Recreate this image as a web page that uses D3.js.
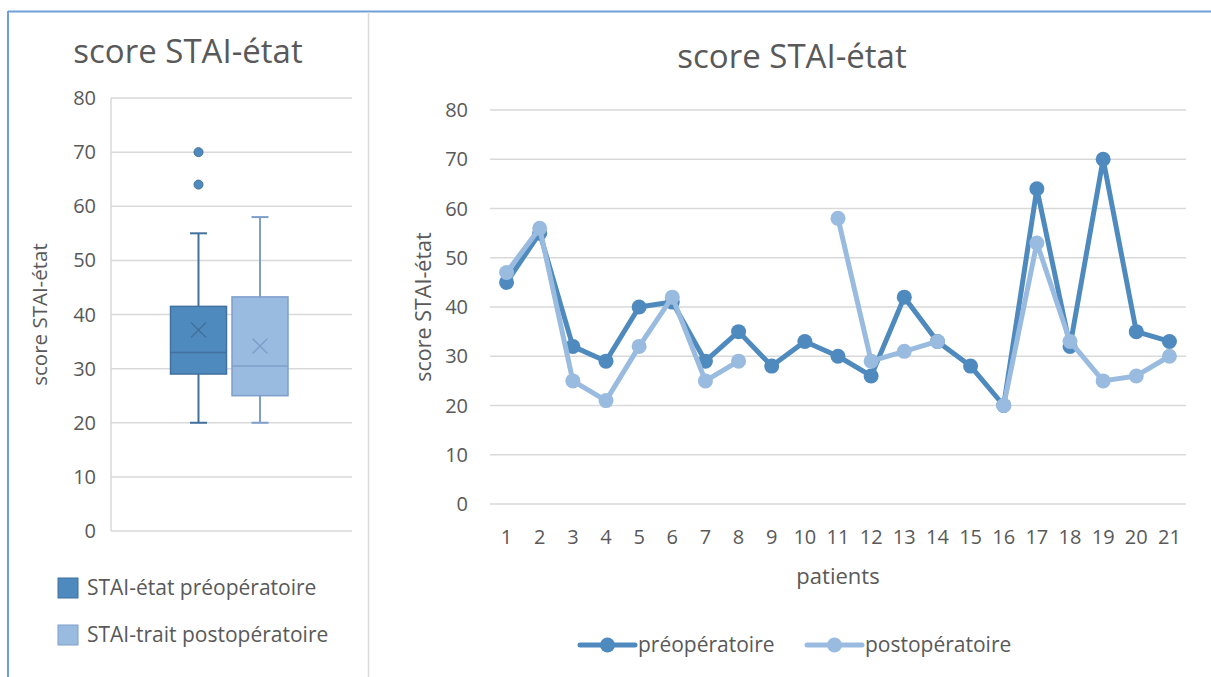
<!DOCTYPE html>
<html>
<head>
<meta charset="utf-8">
<script src="https://cdn.jsdelivr.net/npm/d3@7"></script>
<style>
  body { margin: 0; background: #fff; }
  text { font-family: "Open Sans", sans-serif; fill: #595959; }
</style>
</head>
<body>
<div class="chart"></div>
<script>
// data
var patients = d3.range(1, 22);
var preop  = [45, 55, 32, 29, 40, 41, 29, 35, 28, 33, 30, 26, 42, 33, 28, 20, 64, 32, 70, 35, 33];
var postop = [47, 56, 25, 21, 32, 42, 25, 29, null, null, 58, 29, 31, 33, null, 20, 53, 33, 25, 26, 30];
var yTicks = [0, 10, 20, 30, 40, 50, 60, 70, 80];
var boxNames = ["STAI-état préopératoire", "STAI-trait postopératoire"];
var lineNames = ["préopératoire", "postopératoire"];

var dark = "#4f8abf", light = "#9abbe0";
var darkEdge = "#41719c", lightEdge = "#7f9fca";
var grid = "#d9d9d9";

var W = 1211, H = 677;
var svg = d3.select(".chart").append("svg")
    .attr("width", W)
    .attr("height", H);

// frame
svg.append("line").attr("x1", 8).attr("x2", W).attr("y1", 11.5).attr("y2", 11.5)
    .attr("stroke", "#6fa0d8").attr("stroke-width", 2);
svg.append("line").attr("x1", 8).attr("x2", 8).attr("y1", 11).attr("y2", H)
    .attr("stroke", "#6fa0d8").attr("stroke-width", 2);
svg.append("line").attr("x1", 368.5).attr("x2", 368.5).attr("y1", 12).attr("y2", H)
    .attr("stroke", grid).attr("stroke-width", 1.5);

// Excel-style exclusive quartiles
function quartExc(sorted, p) {
    var n = sorted.length;
    var pos = (n + 1) * p;
    var lo = Math.floor(pos);
    if (lo < 1) return sorted[0];
    if (lo >= n) return sorted[n - 1];
    return sorted[lo - 1] + (pos - lo) * (sorted[lo] - sorted[lo - 1]);
}

function boxStats(vals) {
    var s = vals.filter(function(d){ return d != null; }).sort(d3.ascending);
    var q1 = quartExc(s, 0.25), med = quartExc(s, 0.5), q3 = quartExc(s, 0.75);
    var iqr = q3 - q1;
    var lowF = q1 - 1.5 * iqr, hiF = q3 + 1.5 * iqr;
    var inside = s.filter(function(d){ return d >= lowF && d <= hiF; });
    return {
        q1: q1, med: med, q3: q3, mean: d3.mean(s),
        lo: d3.min(inside), hi: d3.max(inside),
        out: s.filter(function(d){ return d < lowF || d > hiF; })
    };
}

/* ---------- left: box plot ---------- */
var left = svg.append("g");

left.append("text")
    .text("score STAI-état")
    .attr("x", 188).attr("y", 63)
    .attr("text-anchor", "middle")
    .style("font-size", "33px");

var yB = d3.scaleLinear().domain([0, 80]).range([531, 98]);

left.selectAll("line.grid")
    .data(yTicks).enter().append("line")
    .attr("class", "grid")
    .attr("x1", 111).attr("x2", 352)
    .attr("y1", function(d){ return yB(d); })
    .attr("y2", function(d){ return yB(d); })
    .attr("stroke", grid).attr("stroke-width", 1.5);

left.append("line")
    .attr("x1", 111).attr("x2", 111)
    .attr("y1", yB(80)).attr("y2", yB(0))
    .attr("stroke", grid).attr("stroke-width", 1.5);

left.selectAll("text.tick")
    .data(yTicks).enter().append("text")
    .attr("class", "tick")
    .text(function(d){ return d; })
    .attr("x", 96)
    .attr("y", function(d){ return yB(d); })
    .attr("dy", "0.35em")
    .attr("text-anchor", "end")
    .style("font-size", "20px");

left.append("text")
    .text("score STAI-état")
    .attr("transform", "translate(47," + yB(40) + ") rotate(-90)")
    .attr("text-anchor", "middle")
    .style("font-size", "20.5px");

var boxes = [
    { s: boxStats(preop),  cx: 198.5, fill: dark,  edge: darkEdge },
    { s: boxStats(postop), cx: 260,   fill: light, edge: lightEdge }
];
var bw = 56, cap = 17;

boxes.forEach(function(b) {
    var g = left.append("g");
    var s = b.s;
    // whiskers
    g.append("line").attr("x1", b.cx).attr("x2", b.cx)
        .attr("y1", yB(s.hi)).attr("y2", yB(s.q3))
        .attr("stroke", b.edge).attr("stroke-width", 2);
    g.append("line").attr("x1", b.cx).attr("x2", b.cx)
        .attr("y1", yB(s.q1)).attr("y2", yB(s.lo))
        .attr("stroke", b.edge).attr("stroke-width", 2);
    [s.hi, s.lo].forEach(function(v) {
        g.append("line").attr("x1", b.cx - cap / 2).attr("x2", b.cx + cap / 2)
            .attr("y1", yB(v)).attr("y2", yB(v))
            .attr("stroke", b.edge).attr("stroke-width", 2);
    });
    // box
    g.append("rect")
        .attr("x", b.cx - bw / 2).attr("width", bw)
        .attr("y", yB(s.q3)).attr("height", yB(s.q1) - yB(s.q3))
        .attr("fill", b.fill).attr("stroke", b.edge).attr("stroke-width", 1.5);
    g.append("line").attr("x1", b.cx - bw / 2).attr("x2", b.cx + bw / 2)
        .attr("y1", yB(s.med)).attr("y2", yB(s.med))
        .attr("stroke", b.edge).attr("stroke-width", 1.5);
    // mean cross
    var m = yB(s.mean), k = 7.5;
    g.append("path")
        .attr("d", "M" + (b.cx - k) + "," + (m - k) + "L" + (b.cx + k) + "," + (m + k) +
                   "M" + (b.cx - k) + "," + (m + k) + "L" + (b.cx + k) + "," + (m - k))
        .attr("stroke", b.edge).attr("stroke-width", 1.5);
    // outliers
    g.selectAll("circle").data(s.out).enter().append("circle")
        .attr("cx", b.cx).attr("cy", function(d){ return yB(d); })
        .attr("r", 4.5)
        .attr("fill", b.fill).attr("stroke", b.edge).attr("stroke-width", 1);
});

// legend
boxes.forEach(function(b, i) {
    var y = 578 + i * 47;
    left.append("rect")
        .attr("x", 58).attr("y", y).attr("width", 20).attr("height", 20)
        .attr("fill", b.fill).attr("stroke", b.edge).attr("stroke-width", 1);
    left.append("text")
        .text(boxNames[i])
        .attr("x", 87).attr("y", y + 10)
        .attr("dy", "0.35em")
        .style("font-size", "21px");
});

/* ---------- right: line chart ---------- */
var right = svg.append("g");

right.append("text")
    .text("score STAI-état")
    .attr("x", 792).attr("y", 68)
    .attr("text-anchor", "middle")
    .style("font-size", "33px");

var x = d3.scalePoint().domain(patients).range([490, 1186]).padding(0.5);
var y = d3.scaleLinear().domain([0, 80]).range([504, 110]);

right.selectAll("line.grid")
    .data(yTicks).enter().append("line")
    .attr("class", "grid")
    .attr("x1", 490).attr("x2", 1186)
    .attr("y1", function(d){ return y(d); })
    .attr("y2", function(d){ return y(d); })
    .attr("stroke", grid).attr("stroke-width", 1.5);

right.selectAll("text.ytick")
    .data(yTicks).enter().append("text")
    .attr("class", "ytick")
    .text(function(d){ return d; })
    .attr("x", 468)
    .attr("y", function(d){ return y(d); })
    .attr("dy", "0.35em")
    .attr("text-anchor", "end")
    .style("font-size", "20px");

right.selectAll("text.xtick")
    .data(patients).enter().append("text")
    .attr("class", "xtick")
    .text(function(d){ return d; })
    .attr("x", function(d){ return x(d); })
    .attr("y", 537)
    .attr("dy", "0.35em")
    .attr("text-anchor", "middle")
    .style("font-size", "20px");

right.append("text")
    .text("patients")
    .attr("x", 838).attr("y", 576)
    .attr("dy", "0.35em")
    .attr("text-anchor", "middle")
    .style("font-size", "22px");

right.append("text")
    .text("score STAI-état")
    .attr("transform", "translate(431," + y(40) + ") rotate(-90)")
    .attr("text-anchor", "middle")
    .style("font-size", "21.5px");

var series = [
    { vals: preop,  color: dark },
    { vals: postop, color: light }
];

var line = d3.line()
    .defined(function(d){ return d.v != null; })
    .x(function(d){ return x(d.p); })
    .y(function(d){ return y(d.v); });

series.forEach(function(s) {
    var pts = patients.map(function(p, i){ return { p: p, v: s.vals[i] }; });
    right.append("path")
        .datum(pts)
        .attr("d", line)
        .attr("fill", "none")
        .attr("stroke", s.color)
        .attr("stroke-width", 5)
        .attr("stroke-linejoin", "round");
    right.selectAll(null)
        .data(pts.filter(function(d){ return d.v != null; }))
        .enter().append("circle")
        .attr("cx", function(d){ return x(d.p); })
        .attr("cy", function(d){ return y(d.v); })
        .attr("r", 7.5)
        .attr("fill", s.color);
});

// legend
var legX = [580, 807];
series.forEach(function(s, i) {
    var g = right.append("g").attr("transform", "translate(" + legX[i] + ",645)");
    g.append("line").attr("x1", 0).attr("x2", 55).attr("y1", 0).attr("y2", 0)
        .attr("stroke", s.color).attr("stroke-width", 5).attr("stroke-linecap", "round");
    g.append("circle").attr("cx", 27.5).attr("cy", 0).attr("r", 7.5).attr("fill", s.color);
    g.append("text").text(lineNames[i])
        .attr("x", 58).attr("y", 0).attr("dy", "0.35em")
        .style("font-size", "21px");
});
</script>
</body>
</html>
